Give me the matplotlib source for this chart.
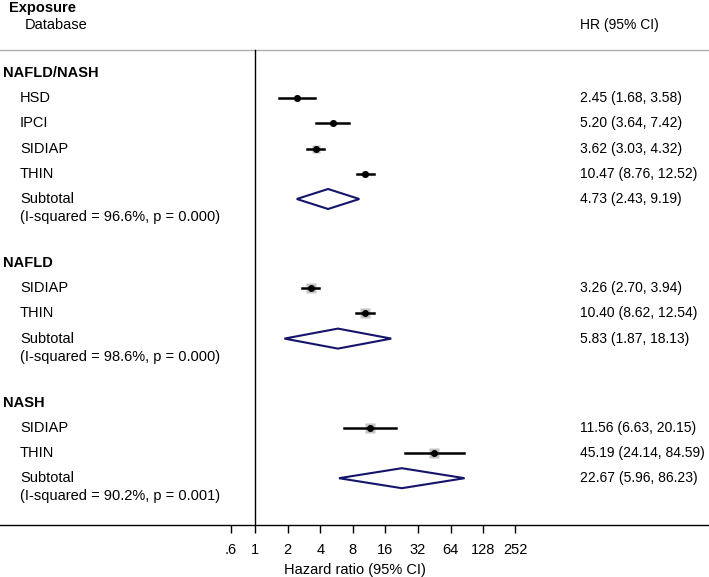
import numpy as np
import matplotlib.pyplot as plt
import matplotlib.transforms as mtransforms

plt.rcParams['font.family'] = ['Liberation Sans', 'DejaVu Sans']
plt.rcParams['font.size'] = 10.5

# data
groups = ["NAFLD/NASH", "NAFLD", "NASH"]
studies = [["HSD", "IPCI", "SIDIAP", "THIN"],
           ["SIDIAP", "THIN"],
           ["SIDIAP", "THIN"]]
hr = [[2.45, 5.20, 3.62, 10.47], [3.26, 10.40], [11.56, 45.19]]
lo = [[1.68, 3.64, 3.03, 8.76], [2.70, 8.62], [6.63, 24.14]]
hi = [[3.58, 7.42, 4.32, 12.52], [3.94, 12.54], [20.15, 84.59]]
weights = [[24, 25, 26, 25], [50, 50], [50, 50]]
sub_hr = [4.73, 5.83, 22.67]
sub_lo = [2.43, 1.87, 5.96]
sub_hi = [9.19, 18.13, 86.23]
isq = ["96.6%", "98.6%", "90.2%"]
pval = ["0.000", "0.000", "0.001"]
ticks = [0.6, 1, 2, 4, 8, 16, 32, 64, 128, 252]
ticklabels = [".6", "1", "2", "4", "8", "16", "32", "64", "128", "252"]

fig = plt.figure(figsize=(7.09, 5.77), dpi=100)
ax = fig.add_axes([0, (577 - 525) / 577, 1, 525 / 577])
ax.set_xscale('log', base=2)
ax.set_xlim(2 ** (-255 / 32.6), 2 ** ((709 - 255) / 32.6))
ax.set_ylim(525, 0)

tr = mtransforms.blended_transform_factory(ax.transAxes, ax.transData)
navy = "#14146a"
step = 25.2

def ci_txt(h, l, u):
    return f"{h:.2f} ({l:.2f}, {u:.2f})"

# header
ax.text(9 / 709, 8, "Exposure", transform=tr, fontweight='bold', va='center')
ax.text(25 / 709, 25, "Database", transform=tr, va='center')
ax.text(580 / 709, 25, "HR (95% CI)", transform=tr, va='center', fontsize=10)
ax.axhline(50, color='#b0b0b0', lw=1)
ax.plot([1, 1], [50, 525], color='black', lw=1)

y = 73
for g in range(len(groups)):
    ax.text(3 / 709, y, groups[g], transform=tr, fontweight='bold', va='center')
    for i in range(len(studies[g])):
        y += step
        ax.text(20 / 709, y, studies[g][i], transform=tr, va='center')
        ax.text(580 / 709, y, ci_txt(hr[g][i], lo[g][i], hi[g][i]), transform=tr,
                va='center', fontsize=10)
        ax.plot([lo[g][i], hi[g][i]], [y, y], color='black', lw=1.8, zorder=3)
        ax.plot(hr[g][i], y, marker='s', ms=np.sqrt(weights[g][i]), color='#c4c4c4',
                mec='none', zorder=2)
        ax.plot(hr[g][i], y, marker='o', ms=4, color='black', zorder=4)
    y += step
    ax.text(20 / 709, y, "Subtotal", transform=tr, va='center')
    ax.text(20 / 709, y + 18, f"(I-squared = {isq[g]}, p = {pval[g]})", transform=tr, va='center')
    ax.text(580 / 709, y, ci_txt(sub_hr[g], sub_lo[g], sub_hi[g]), transform=tr,
            va='center', fontsize=10)
    ax.fill([sub_lo[g], sub_hr[g], sub_hi[g], sub_hr[g]], [y, y - 10, y, y + 10],
            facecolor='none', edgecolor=navy, lw=1.5, zorder=3)
    y += 64

for s in ['top', 'left', 'right']:
    ax.spines[s].set_visible(False)
ax.spines['bottom'].set_linewidth(1)
ax.set_yticks([])
ax.set_xticks(ticks)
ax.set_xticklabels(ticklabels)
ax.minorticks_off()
ax.tick_params(axis='x', length=6, width=1, pad=7, labelsize=10.5)
ax.set_xlabel("Hazard ratio (95% CI)", fontsize=10.5, labelpad=4)

plt.savefig("out.png", dpi=100)
